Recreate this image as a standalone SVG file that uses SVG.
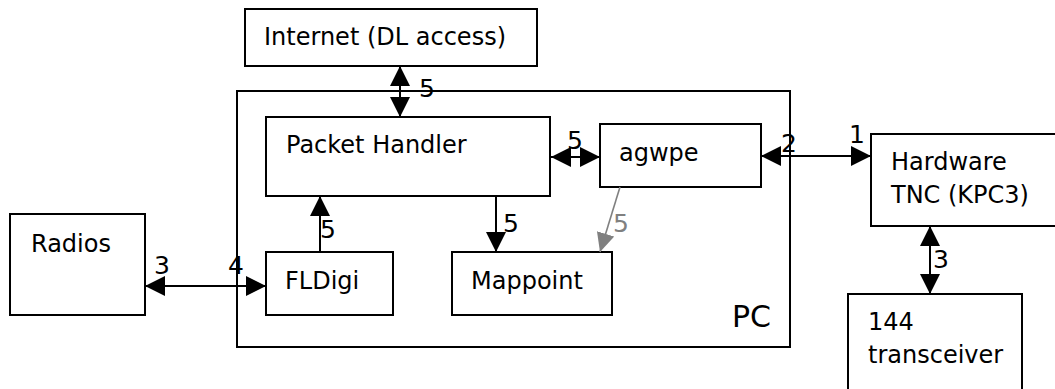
<svg xmlns="http://www.w3.org/2000/svg" width="1055" height="389" viewBox="0 0 1055 389">
<style>
.box{fill:#fff;stroke:#000;stroke-width:2}
.t{font-family:"DejaVu Sans","Liberation Sans",sans-serif;font-size:24px;fill:#000}
.n{font-family:"DejaVu Sans","Liberation Sans",sans-serif;font-size:25px;fill:#000}
.c{stroke:#000;stroke-width:2;fill:none}
.g{stroke:#808080;stroke-width:1.6;fill:none}
</style>
<defs>
<marker id="ah" markerUnits="userSpaceOnUse" markerWidth="21" markerHeight="21" refX="20" refY="10" orient="auto-start-reverse" viewBox="0 0 21 21">
<path d="M0,0 L20,10 L0,20 z" fill="#000"/>
</marker>
<marker id="ahg" markerUnits="userSpaceOnUse" markerWidth="21" markerHeight="21" refX="19" refY="9" orient="auto" viewBox="0 0 21 21">
<path d="M0,0 L19,9 L0,18 z" fill="#808080"/>
</marker>
</defs>
<g id="pc">
<rect class="box" x="237" y="91" width="553" height="256"/>
<text class="t" x="732" y="327" style="font-size:30px">PC</text>
</g>
<g id="internet">
<rect class="box" x="245" y="9" width="292" height="57"/>
<text class="t" x="264" y="45">Internet (DL access)</text>
</g>
<g id="packet-handler">
<rect class="box" x="266" y="117" width="284" height="79"/>
<text class="t" x="286" y="153">Packet Handler</text>
</g>
<g id="agwpe">
<rect class="box" x="600" y="124" width="161" height="63"/>
<text class="t" x="619" y="161">agwpe</text>
</g>
<g id="fldigi">
<rect class="box" x="266" y="252" width="127" height="63"/>
<text class="t" x="285" y="289">FLDigi</text>
</g>
<g id="mappoint">
<rect class="box" x="452" y="252" width="160" height="63"/>
<text class="t" x="471" y="289">Mappoint</text>
</g>
<g id="radios">
<rect class="box" x="10" y="214" width="135" height="101"/>
<text class="t" x="31" y="252">Radios</text>
</g>
<g id="hardware-tnc">
<rect class="box" x="871" y="134" width="200" height="92"/>
<text class="t" x="891" y="170">Hardware</text>
<text class="t" x="891" y="203">TNC (KPC3)</text>
</g>
<g id="transceiver">
<rect class="box" x="848" y="294" width="174" height="120"/>
<text class="t" x="868" y="330">144</text>
<text class="t" x="868" y="363">transceiver</text>
</g>
<g id="connectors">
<line class="c" x1="400" y1="66" x2="400" y2="117" marker-start="url(#ah)" marker-end="url(#ah)"/>
<text class="n" x="419" y="97">5</text>
<line class="c" x1="551" y1="157" x2="600" y2="157" marker-start="url(#ah)" marker-end="url(#ah)"/>
<text class="n" x="567" y="149">5</text>
<line class="c" x1="761" y1="156" x2="871" y2="156" marker-start="url(#ah)" marker-end="url(#ah)"/>
<text class="n" x="781" y="152">2</text>
<text class="n" x="849" y="143">1</text>
<line class="c" x1="930" y1="226" x2="930" y2="294" marker-start="url(#ah)" marker-end="url(#ah)"/>
<text class="n" x="933" y="268">3</text>
<line class="c" x1="145" y1="286" x2="266" y2="286" marker-start="url(#ah)" marker-end="url(#ah)"/>
<text class="n" x="154" y="274">3</text>
<text class="n" x="228" y="274">4</text>
<line class="c" x1="320" y1="252" x2="320" y2="196" marker-end="url(#ah)"/>
<text class="n" x="320" y="238">5</text>
<line class="c" x1="496" y1="196" x2="496" y2="252" marker-end="url(#ah)"/>
<text class="n" x="503" y="232">5</text>
<line class="g" x1="620" y1="187" x2="600" y2="252" marker-end="url(#ahg)"/>
<text class="n" x="613" y="232" style="fill:#808080">5</text>
</g>
</svg>
